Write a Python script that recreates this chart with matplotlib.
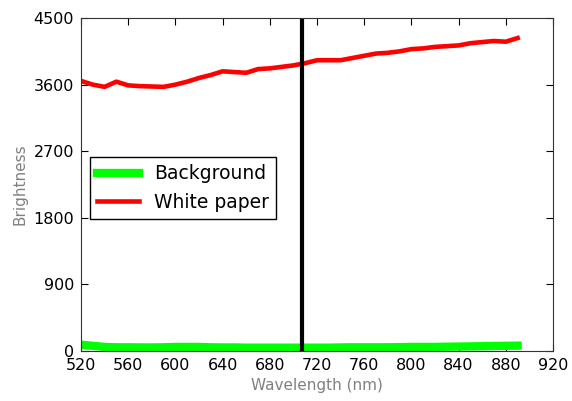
import matplotlib
matplotlib.use("Agg")
import matplotlib.pyplot as plt
import numpy as np

# wavelength samples (nm)
wavelength = np.arange(520, 891, 10)

background = [85, 70, 55, 50, 50, 48, 48, 50, 55, 55,
              55, 50, 48, 48, 45, 45, 45, 45, 45, 45,
              45, 45, 48, 50, 50, 50, 50, 52, 55, 55,
              55, 58, 60, 62, 65, 68, 70, 72]

white_paper = [3650, 3600, 3570, 3640, 3590, 3580, 3575, 3570, 3600, 3640,
               3690, 3730, 3780, 3770, 3760, 3810, 3820, 3840, 3860, 3890,
               3930, 3930, 3930, 3960, 3990, 4020, 4030, 4050, 4080, 4090,
               4110, 4120, 4130, 4160, 4175, 4190, 4180, 4230]

marker_wl = 707

xticks = np.arange(520, 921, 40)
yticks = np.arange(0, 4501, 900)

fig = plt.figure(figsize=(5.72, 4.01), dpi=100)
ax = fig.add_axes([0.1416, 0.1247, 0.8252, 0.8303])

ax.plot(wavelength, background, color='#00ff00', lw=6, label='Background')
ax.plot(wavelength, white_paper, color='red', lw=3.3, label='White paper')
ax.axvline(marker_wl, color='black', lw=3)

ax.set_xlim(520, 920)
ax.set_ylim(0, 4500)
ax.set_xticks(xticks)
ax.set_yticks(yticks)
ax.tick_params(direction='in', top=True, right=True, labelsize=11.5,
               length=5, pad=5)
for s in ax.spines.values():
    s.set_color('#333333')

ax.set_xlabel('Wavelength (nm)', color='gray', fontsize=11)
ax.set_ylabel('Brightness', color='gray', fontsize=11)

leg = ax.legend(loc='center left', bbox_to_anchor=(0.019, 0.49),
                fontsize=13.5, fancybox=False, framealpha=1,
                handlelength=2.2, borderaxespad=0)
leg.get_frame().set_edgecolor('black')

fig.savefig('out.png', dpi=100)
